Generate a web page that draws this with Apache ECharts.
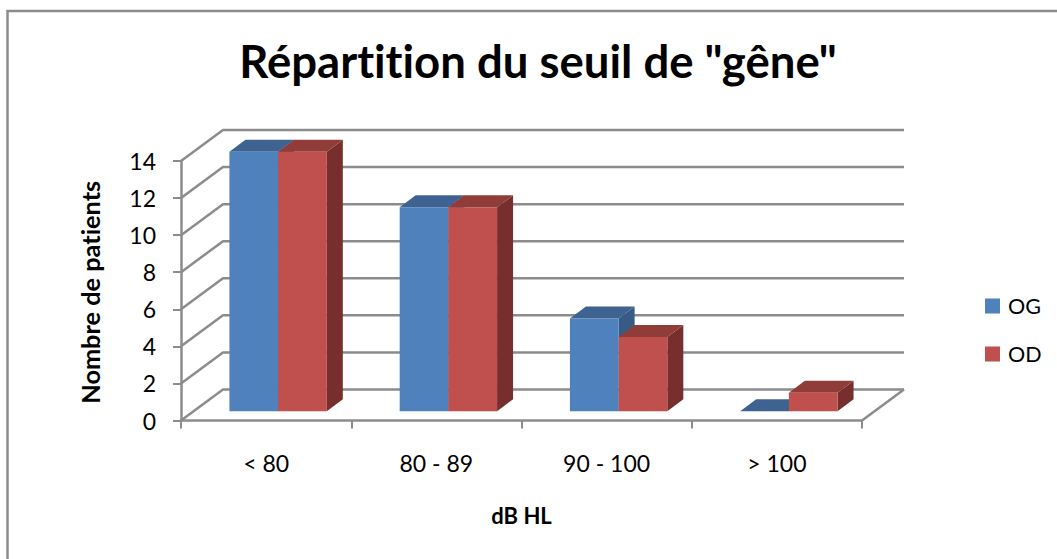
<!DOCTYPE html>
<html>
<head>
<meta charset="utf-8">
<style>html,body{margin:0;padding:0;background:#fff}#c{width:1057px;height:559px}#c text{font-variant-ligatures:none}</style>
<script src="https://cdn.jsdelivr.net/npm/echarts@6/dist/echarts.min.js"></script>
</head>
<body>
<div id="c"></div>
<script>
const categories = ['< 80', '80 - 89', '90 - 100', '> 100'];
const seriesOG = [14, 11, 5, 0];
const seriesOD = [14, 11, 4, 1];
const yTicks = [0, 2, 4, 6, 8, 10, 12, 14];

const GRID = '#8c8c8c';
const WALL = [42, -31];       // depth of the floor/back wall
const GAP = [12, -9.25];      // front plane to bar front
const DEPTH = [16, -12];      // bar depth
const BAR_FRACTION = 0.286;   // one bar, as a fraction of the band

const chart = echarts.init(document.getElementById('c'), null, {renderer: 'svg'});

function renderWall(params, api) {
  const rect = params.coordSys;
  const y = api.coord([0, api.value(1)])[1];
  const x0 = rect.x, x1 = rect.x + rect.width;
  const children = [{
    type: 'polyline',
    shape: {points: [[x0, y], [x0 + WALL[0], y + WALL[1]], [x1 + WALL[0], y + WALL[1]]]},
    style: {stroke: GRID, lineWidth: 2.5, fill: null}
  }];
  if (api.value(1) === 0) {
    children.push({
      type: 'line',
      shape: {x1: x1, y1: y, x2: x1 + WALL[0], y2: y + WALL[1]},
      style: {stroke: GRID, lineWidth: 2.5}
    });
  }
  return {type: 'group', silent: true, children: children};
}

function barRenderer(offsetSign, front, top, side) {
  return function (params, api) {
    const band = api.size([1, 0])[0];
    const w = band * BAR_FRACTION;
    const base = api.coord([api.value(0), 0]);
    const head = api.coord([api.value(0), api.value(1)]);
    const xl = base[0] + GAP[0] + (offsetSign < 0 ? -w : 0);
    const xr = xl + w;
    const yb = base[1] + GAP[1];
    const yt = head[1] + GAP[1];
    const dx = DEPTH[0], dy = DEPTH[1];
    return {
      type: 'group',
      children: [
        {type: 'polygon', shape: {points: [[xr, yb], [xr + dx, yb + dy], [xr + dx, yt + dy], [xr, yt]]}, style: {fill: side}},
        {type: 'polygon', shape: {points: [[xl, yt], [xr, yt], [xr + dx, yt + dy], [xl + dx, yt + dy]]}, style: {fill: top}},
        {type: 'rect', shape: {x: xl, y: yt, width: w, height: yb - yt}, style: {fill: front}}
      ]
    };
  };
}

chart.setOption({
  animation: false,
  backgroundColor: '#ffffff',
  textStyle: {fontFamily: 'Lato'},
  title: {
    text: 'Répartition du seuil de "gêne"',
    left: 533, top: 32, textAlign: 'center',
    textStyle: {fontFamily: 'Lato', fontWeight: 'bold', fontSize: 45.5, color: '#000'}
  },
  graphic: [{
    type: 'rect', silent: true, z: -1,
    shape: {x: 7.5, y: 11, width: 1100, height: 600},
    style: {fill: null, stroke: '#8c8c8c', lineWidth: 2.5}
  }],
  legend: {
    orient: 'vertical', left: 980, top: 290,
    data: ['OG', 'OD'],
    itemWidth: 15, itemHeight: 15, itemGap: 26,
    icon: 'rect',
    textStyle: {fontFamily: 'Lato', fontSize: 21.5, color: '#000', padding: [0, 0, 0, 3]}
  },
  grid: {left: 181, right: 1057 - 862, top: 161, bottom: 559 - 420.5, containLabel: false},
  xAxis: {
    type: 'category', data: categories,
    name: 'dB HL', nameLocation: 'middle', nameGap: 84,
    nameTextStyle: {fontFamily: 'Lato', fontWeight: 'bold', fontSize: 22, color: '#000'},
    axisLine: {onZero: false, lineStyle: {color: GRID, width: 2.5}},
    axisTick: {show: true, alignWithLabel: false, length: 8, lineStyle: {color: GRID, width: 2}},
    axisLabel: {margin: 31, fontFamily: 'Lato', fontSize: 23, color: '#000'},
    splitLine: {show: false}
  },
  yAxis: {
    type: 'value', min: 0, max: 14, interval: 2,
    name: 'Nombre de patients', nameLocation: 'middle', nameGap: 79, nameRotate: 90,
    nameTextStyle: {fontFamily: 'Lato', fontWeight: 'bold', fontSize: 25.3, color: '#000', padding: [0, 3, 0, 0]},
    axisLine: {show: true, lineStyle: {color: GRID, width: 2.5}},
    axisTick: {show: true, length: 8, lineStyle: {color: GRID, width: 2}},
    axisLabel: {margin: 25, fontFamily: 'Lato', fontSize: 23, color: '#000'},
    splitLine: {show: false}
  },
  series: [
    {
      name: 'walls', type: 'custom', renderItem: renderWall, silent: true, z: 1,
      data: yTicks.map(v => [0, v]), encode: {x: 0, y: 1}
    },
    {
      name: 'OG', type: 'custom', z: 2, itemStyle: {color: '#4f81bd'},
      renderItem: barRenderer(-1, '#4f81bd', '#3e6390', '#385b85'),
      data: seriesOG.map((v, i) => [i, v]), encode: {x: 0, y: 1}
    },
    {
      name: 'OD', type: 'custom', z: 3, itemStyle: {color: '#c0504d'},
      renderItem: barRenderer(1, '#c0504d', '#903c39', '#772f2d'),
      data: seriesOD.map((v, i) => [i, v]), encode: {x: 0, y: 1}
    }
  ]
});
</script>
</body>
</html>
